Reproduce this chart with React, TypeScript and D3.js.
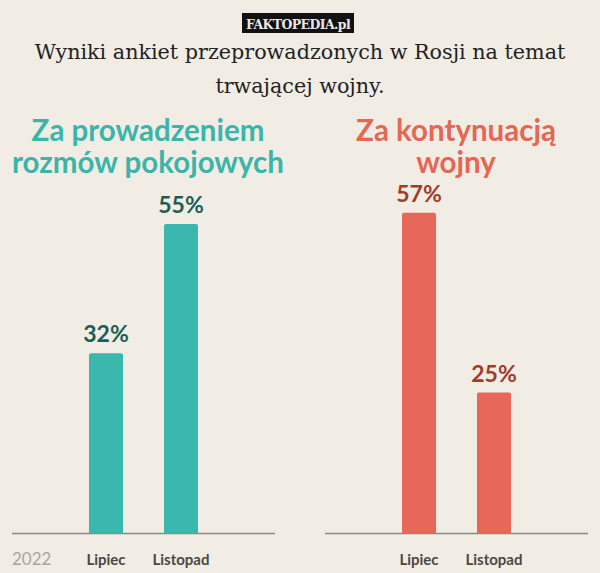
import React from "react";
import * as d3 from "d3";

const months = ["Lipiec", "Listopad"];
const peaceValues = [32, 55];
const warValues = [57, 25];
const titleLines = ["Wyniki ankiet przeprowadzonych w Rosji na temat", "trwającej wojny."];
const peaceTitle = ["Za prowadzeniem", "rozmów pokojowych"];
const warTitle = ["Za kontynuacją", "wojny"];
const yearLabel = "2022";

const W = 600, H = 573;
const baseY = 533;
const y = d3.scaleLinear().domain([0, 100]).range([baseY, baseY - 562]);
const barW = 34;

function Panel({ values, x, color, labelColor, lineX }: any) {
  return (
    <g>
      <line x1={lineX[0]} x2={lineX[1]} y1={baseY + 0.5} y2={baseY + 0.5} stroke="#8c8a86" strokeWidth={1.5} />
      {months.map((m, i) => {
        const cx = x(m)!;
        const top = y(values[i]);
        return (
          <g key={m}>
            <path
              d={`M${cx - barW / 2},${baseY} V${top + 2} Q${cx - barW / 2},${top} ${cx - barW / 2 + 2},${top} H${cx + barW / 2 - 2} Q${cx + barW / 2},${top} ${cx + barW / 2},${top + 2} V${baseY} Z`}
              fill={color}
            />
            <text x={cx} y={top - 11} textAnchor="middle" fontFamily="Lato" fontWeight={700} fontSize={23} fill={labelColor}>
              {values[i]}%
            </text>
            <text x={cx} y={565} textAnchor="middle" fontFamily="Lato" fontWeight={700} fontSize={15} fill="#4a4845">
              {m}
            </text>
          </g>
        );
      })}
    </g>
  );
}

export default function App() {
  const xLeft = d3.scalePoint<string>().domain(months).range([106, 181]);
  const xRight = d3.scalePoint<string>().domain(months).range([419, 494]);
  return (
    <svg width={W} height={H} style={{ position: "absolute", left: 0, top: 0 }}>
      <rect width={W} height={H} fill="#F1EDE5" />
      <rect x={242} y={13} width={112} height={20} fill="#111" />
      <text x={298} y={28.5} textAnchor="middle" fontFamily="DejaVu Serif" fontWeight={700} fontSize={12.5} fill="#e8e8e8" letterSpacing={-0.6}>
        FAKTOPEDIA.pl
      </text>
      {titleLines.map((t, i) => (
        <text key={i} x={300} y={59 + i * 34} textAnchor="middle" fontFamily="DejaVu Serif" fontSize={20.7} fill="#222">
          {t}
        </text>
      ))}
      {peaceTitle.map((t, i) => (
        <text key={i} x={148} y={141 + i * 32} textAnchor="middle" fontFamily="Lato" fontWeight={700} fontSize={29.5} fill="#3BB5AA">
          {t}
        </text>
      ))}
      {warTitle.map((t, i) => (
        <text key={i} x={456} y={141 + i * 32} textAnchor="middle" fontFamily="Lato" fontWeight={700} fontSize={29.5} fill="#E46653">
          {t}
        </text>
      ))}
      <Panel values={peaceValues} x={xLeft} color="#3BB8AE" labelColor="#1C5E55" lineX={[12, 275]} />
      <Panel values={warValues} x={xRight} color="#E7685A" labelColor="#A23B29" lineX={[325, 588]} />
      <text x={12} y={565} fontFamily="Lato" fontSize={17} fill="#a8a6a2">{yearLabel}</text>
    </svg>
  );
}
